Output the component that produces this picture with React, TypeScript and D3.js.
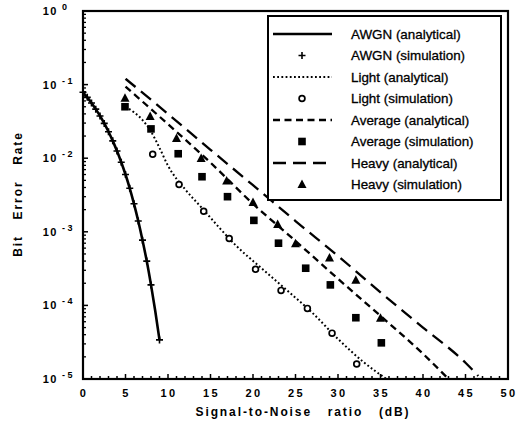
import { useEffect, useRef } from "react";
import * as d3 from "d3";

// AWGN (BPSK) curve and its simulated points
const awgnSnr = [0, 0.5, 1, 1.5, 2, 2.5, 3, 3.5, 4, 4.5, 5, 5.5, 6, 6.5, 7, 7.5, 8, 8.5, 9];
const awgnBer = [
  0.0786, 0.0671, 0.0563, 0.0464, 0.0375, 0.0297, 0.0229, 0.0172, 0.0125, 0.0088,
  0.006, 0.0039, 0.0024, 0.0014, 7.7e-4, 4.0e-4, 1.9e-4, 8.4e-5, 3.4e-5,
];
const awgnSimSnr = [0, 0.5, 1, 1.5, 2, 2.5, 3, 3.5, 4, 4.5, 5, 5.5, 6, 6.5, 7, 7.5, 8, 9];
const awgnSimBer = [
  0.0786, 0.0671, 0.0563, 0.0464, 0.0375, 0.0297, 0.0229, 0.0172, 0.0125, 0.0088,
  0.006, 0.0039, 0.0024, 0.0014, 7.7e-4, 4.0e-4, 1.9e-4, 3.4e-5,
];

const lightSnr = [5, 6, 7, 8, 9, 10, 12, 14, 16, 18, 21, 24, 27, 30, 33, 35.7];
const lightBer = [
  0.05, 0.042, 0.033, 0.023, 0.0138, 7.9e-3, 3.8e-3, 2.1e-3, 1.15e-3, 6.5e-4,
  3.2e-4, 1.6e-4, 7.9e-5, 3.5e-5, 1.7e-5, 1e-5,
];
const lightSimSnr = [8.2, 11.3, 14.2, 17.2, 20.3, 23.3, 26.4, 29.3, 32.2];
const lightSimBer = [1.13e-2, 4.4e-3, 1.9e-3, 8.1e-4, 3.1e-4, 1.6e-4, 9.1e-5, 4.2e-5, 1.6e-5];

const avgSnr = [5, 10, 15, 20, 25, 30, 35, 40, 43];
const avgBer = [0.094, 0.029, 8.7e-3, 2.4e-3, 7.5e-4, 2.3e-4, 7.2e-5, 2.2e-5, 1e-5];
const avgSimSnr = [4.94, 8.0, 11.2, 14.0, 17.0, 20.1, 23.0, 26.2, 29.1, 32.1, 35.1];
const avgSimBer = [0.05, 0.025, 0.0115, 5.6e-3, 3.0e-3, 1.43e-3, 7.0e-4, 3.2e-4, 1.9e-4, 6.8e-5, 3.1e-5];

const heavySnr = [5, 10, 15, 20, 25, 30, 35, 40, 45, 46.5];
const heavyBer = [0.12, 0.04, 0.013, 4.3e-3, 1.4e-3, 4.7e-4, 1.5e-4, 5.0e-5, 1.66e-5, 1.1e-5];
const heavySimSnr = [4.94, 7.9, 11.0, 13.9, 16.9, 20.0, 22.9, 25.0, 29.0, 32.1, 35.0];
const heavySimBer = [0.065, 0.037, 0.0185, 9.9e-3, 4.9e-3, 2.5e-3, 1.26e-3, 6.9e-4, 4.4e-4, 2.2e-4, 6.7e-5];

const xTicks = [0, 5, 10, 15, 20, 25, 30, 35, 40, 45, 50];
const yExponents = [0, -1, -2, -3, -4, -5];

const legendLabels = [
  "AWGN (analytical)",
  "AWGN (simulation)",
  "Light (analytical)",
  "Light (simulation)",
  "Average (analytical)",
  "Average (simulation)",
  "Heavy (analytical)",
  "Heavy (simulation)",
];

const W = 519;
const H = 434;
const font = "'Liberation Sans', Arial, sans-serif";

const zip = (xs: number[], ys: number[]) => xs.map((v, i) => [v, ys[i]] as [number, number]);

const App = () => {
  const ref = useRef<SVGSVGElement | null>(null);

  useEffect(() => {
    const margin = { top: 11, right: 11, bottom: 55, left: 83 };
    const svg = d3.select(ref.current);
    svg.selectAll("*").remove();

    const x = d3.scaleLinear().domain([0, 50]).range([margin.left, W - margin.right]);
    const y = d3.scaleLog().domain([1e-5, 1]).range([H - margin.bottom, margin.top]);

    const line = d3
      .line<[number, number]>()
      .x((d) => x(d[0]))
      .y((d) => y(d[1]))
      .curve(d3.curveMonotoneX);

    const styles = {
      awgn: { dash: "", width: 2.6 },
      light: { dash: "1.8,2.4", width: 2 },
      avg: { dash: "7,4.5", width: 2.3 },
      heavy: { dash: "13,7", width: 2.3 },
    };

    // ticks on x axis (inward)
    const gx = svg.append("g");
    d3.range(0, 51).forEach((v) => {
      const major = v % 5 === 0;
      gx.append("line")
        .attr("x1", x(v))
        .attr("x2", x(v))
        .attr("y1", y(1e-5))
        .attr("y2", y(1e-5) - (major ? 5 : 3))
        .attr("stroke", "#000")
        .attr("stroke-width", 1.5);
    });
    xTicks.forEach((v) => {
      gx.append("text")
        .attr("x", x(v) + 1)
        .attr("y", 397)
        .attr("text-anchor", "middle")
        .attr("font-family", font)
        .attr("font-weight", "bold")
        .attr("font-size", 11)
        .attr("letter-spacing", 2.5)
        .text(String(v));
    });

    // ticks on y axis (inward, log)
    const gy = svg.append("g");
    yExponents.forEach((e) => {
      gy.append("line")
        .attr("x1", x(0))
        .attr("x2", x(0) + 5)
        .attr("y1", y(10 ** e))
        .attr("y2", y(10 ** e))
        .attr("stroke", "#000")
        .attr("stroke-width", 1.5);
      if (e > -5) {
        d3.range(2, 10).forEach((m) => {
          const v = m * 10 ** (e - 1);
          gy.append("line")
            .attr("x1", x(0))
            .attr("x2", x(0) + 3)
            .attr("y1", y(v))
            .attr("y2", y(v))
            .attr("stroke", "#000")
            .attr("stroke-width", 1.3);
        });
      }
      gy.append("text")
        .attr("x", 58)
        .attr("y", y(10 ** e) + 4)
        .attr("text-anchor", "end")
        .attr("font-family", font)
        .attr("font-weight", "bold")
        .attr("font-size", 11)
        .attr("letter-spacing", 1.5)
        .text("10");
      gy.append("text")
        .attr("x", 62)
        .attr("y", y(10 ** e) - 1)
        .attr("font-family", font)
        .attr("font-weight", "bold")
        .attr("font-size", 9)
        .style("white-space", "pre")
        .text(e === 0 ? "0" : `- ${-e}`);
    });

    // frame
    svg.append("rect")
      .attr("x", x(0))
      .attr("y", y(1))
      .attr("width", x(50) - x(0))
      .attr("height", y(1e-5) - y(1))
      .attr("fill", "none")
      .attr("stroke", "#000")
      .attr("stroke-width", 2.2);

    // curves
    const drawLine = (xs: number[], ys: number[], s: { dash: string; width: number }) => {
      svg.append("path")
        .datum(zip(xs, ys))
        .attr("fill", "none")
        .attr("stroke", "#000")
        .attr("stroke-width", s.width)
        .attr("stroke-dasharray", s.dash || null)
        .attr("d", line);
    };
    drawLine(awgnSnr, awgnBer, styles.awgn);
    drawLine(lightSnr, lightBer, styles.light);
    drawLine(avgSnr, avgBer, styles.avg);
    drawLine(heavySnr, heavyBer, styles.heavy);

    // markers
    const plus = (g: any, cx: number, cy: number) => {
      g.append("path")
        .attr("d", `M${cx - 3.5},${cy}H${cx + 3.5}M${cx},${cy - 3.5}V${cy + 3.5}`)
        .attr("stroke", "#000")
        .attr("stroke-width", 1.6);
    };
    const circle = (g: any, cx: number, cy: number) => {
      g.append("circle")
        .attr("cx", cx)
        .attr("cy", cy)
        .attr("r", 2.9)
        .attr("fill", "#fff")
        .attr("stroke", "#000")
        .attr("stroke-width", 1.7);
    };
    const square = (g: any, cx: number, cy: number) => {
      g.append("rect")
        .attr("x", cx - 3.8)
        .attr("y", cy - 3.8)
        .attr("width", 7.6)
        .attr("height", 7.6)
        .attr("fill", "#000");
    };
    const triangle = (g: any, cx: number, cy: number) => {
      g.append("path")
        .attr("d", `M${cx},${cy - 5}L${cx + 4.5},${cy + 3.5}L${cx - 4.5},${cy + 3.5}Z`)
        .attr("fill", "#000");
    };

    const gm = svg.append("g");
    awgnSimSnr.forEach((v, i) => plus(gm, x(v), y(awgnSimBer[i])));
    lightSimSnr.forEach((v, i) => circle(gm, x(v), y(lightSimBer[i])));
    avgSimSnr.forEach((v, i) => square(gm, x(v), y(avgSimBer[i])));
    heavySimSnr.forEach((v, i) => triangle(gm, x(v), y(heavySimBer[i])));

    // legend
    const lg = svg.append("g");
    lg.append("rect")
      .attr("x", 268)
      .attr("y", 16)
      .attr("width", 233)
      .attr("height", 184)
      .attr("fill", "#fff")
      .attr("stroke", "#000")
      .attr("stroke-width", 2);
    const rowY = (i: number) => 34 + i * 21.5;
    const lineStyles = [styles.awgn, null, styles.light, null, styles.avg, null, styles.heavy, null];
    const markers = [null, plus, null, circle, null, square, null, triangle];
    legendLabels.forEach((label, i) => {
      const ry = rowY(i);
      const ls = lineStyles[i];
      if (ls) {
        lg.append("line")
          .attr("x1", 273)
          .attr("x2", 332)
          .attr("y1", ry)
          .attr("y2", ry)
          .attr("stroke", "#000")
          .attr("stroke-width", ls.width)
          .attr("stroke-dasharray", ls.dash || null);
      }
      const mk = markers[i];
      if (mk) mk(lg, 302, ry);
      lg.append("text")
        .attr("x", 351)
        .attr("y", ry + 4.5)
        .attr("font-family", font)
        .attr("font-size", 13.4)
        .attr("stroke", "#000")
        .attr("stroke-width", 0.3)
        .text(label);
    });

    // axis titles
    svg.append("text")
      .attr("x", 303)
      .attr("y", 416)
      .attr("text-anchor", "middle")
      .attr("font-family", font)
      .attr("font-weight", "bold")
      .attr("font-size", 12)
      .attr("letter-spacing", 1.9)
      .style("white-space", "pre")
      .text("Signal-to-Noise   ratio   (dB)");

    svg.append("text")
      .attr("transform", "translate(22,194) rotate(-90)")
      .attr("text-anchor", "middle")
      .attr("font-family", font)
      .attr("font-weight", "bold")
      .attr("font-size", 12)
      .attr("letter-spacing", 1.9)
      .style("white-space", "pre")
      .text("Bit   Error   Rate");
  }, []);

  return (
    <svg
      ref={ref}
      width={W}
      height={H}
      style={{ position: "absolute", left: 0, top: 0, background: "#fff" }}
    ></svg>
  );
};

export default App;
